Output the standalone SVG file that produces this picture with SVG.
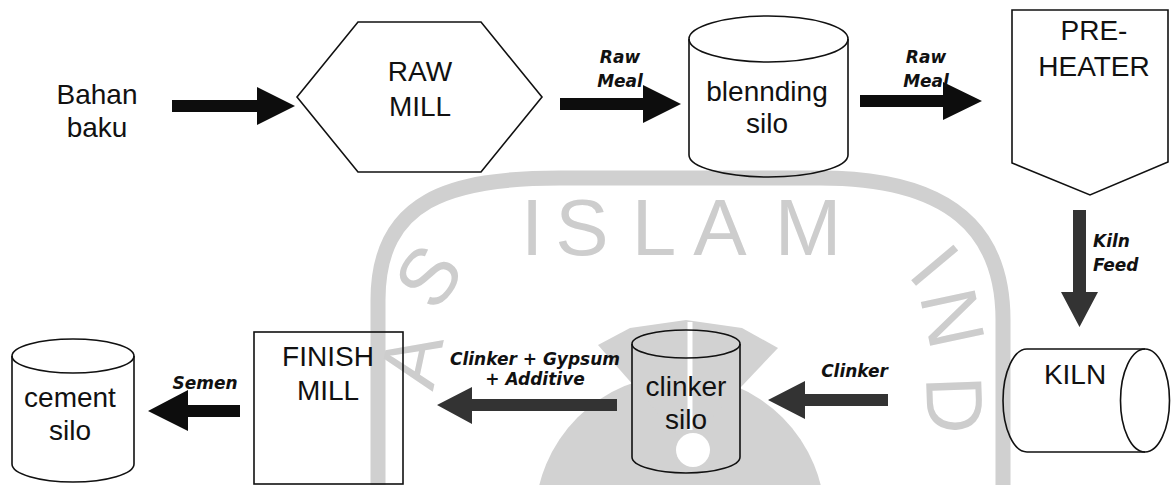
<svg xmlns="http://www.w3.org/2000/svg" width="1171" height="485" viewBox="0 0 1171 485">
<style>
.node{fill:none;stroke:#111;stroke-width:1.6}
.lbl{font-family:"Liberation Sans",Arial,sans-serif;font-size:28px;fill:#111;text-anchor:middle}
.flow{font-family:"DejaVu Sans",Verdana,sans-serif;font-size:17px;font-weight:bold;font-style:italic;fill:#111;text-anchor:middle}
.flowL{font-family:"DejaVu Sans",Verdana,sans-serif;font-size:17px;font-weight:bold;font-style:italic;fill:#111;text-anchor:start}
.flowR{font-family:"DejaVu Sans",Verdana,sans-serif;font-size:17px;font-weight:bold;font-style:italic;fill:#111;text-anchor:end}
.blk{fill:#0d0d0d}
.dk{fill:#333}
.wm{font-family:"Liberation Sans",Arial,sans-serif;font-size:80px;fill:#cdcdcd;text-anchor:middle}
.wmfill{fill:#d2d2d2}
</style>
<rect width="1171" height="485" fill="#fff"/>
<g id="watermark">
<path d="M 378,485 L 378,300 C 378,200 450,178 560,178 L 820,178 C 950,178 1003,230 1003,320 L 1003,485" fill="none" stroke="#d0d0d0" stroke-width="15"/>
<circle class="wmfill" cx="680" cy="520" r="145"/>
<polygon class="wmfill" points="686,445 598,345 630,328 686,320 742,328 778,348"/>
<line x1="690" y1="322" x2="690" y2="430" stroke="#fff" stroke-width="5"/>
<circle cx="693" cy="450" r="17" fill="#fff"/>
<text class="wm" x="532 582 654 720 808" y="255">ISLAM</text>
<text class="wm" transform="translate(428,276) rotate(-55)" x="0" y="28">S</text>
<text class="wm" transform="translate(411,360) rotate(-78)" x="0" y="28">A</text>
<text class="wm" transform="translate(935,265) rotate(50)" x="0" y="28">I</text>
<text class="wm" transform="translate(953,318) rotate(78)" x="0" y="28">N</text>
<text class="wm" transform="translate(955,405) rotate(88)" x="0" y="28">D</text>
</g>
<g id="bahan-baku">
<text class="lbl" x="97" y="104">Bahan</text>
<text class="lbl" x="97" y="137">baku</text>
</g>
<g id="raw-mill">
<polygon class="node" points="297,97 358,22 481,22 542,97 481,172 358,172"/>
<text class="lbl" x="420" y="81">RAW</text>
<text class="lbl" x="420" y="116">MILL</text>
</g>
<g id="blending-silo">
<path class="node" d="M689,39 L689,155 A79.5,22 0 0 0 848,155 L848,39"/>
<ellipse class="node" cx="768.5" cy="39" rx="79.5" ry="23"/>
<text class="lbl" x="767" y="101">blennding</text>
<text class="lbl" x="767" y="133">silo</text>
</g>
<g id="preheater">
<polygon class="node" points="1012,10 1168,10 1168,162 1090,195 1012,163"/>
<text class="lbl" x="1094" y="40">PRE-</text>
<text class="lbl" x="1094" y="76">HEATER</text>
</g>
<g id="kiln">
<path class="node" d="M1027,349 A24,51.5 0 0 0 1027,452 L1145,452 M1027,349 L1145,349"/>
<ellipse class="node" cx="1145" cy="400.5" rx="24.5" ry="51.5"/>
<text class="lbl" x="1075" y="384">KILN</text>
</g>
<g id="clinker-silo">
<path class="node" d="M632,344 L632,457 A54,16 0 0 0 740,457 L740,344"/>
<ellipse class="node" cx="686" cy="344" rx="54" ry="14"/>
<text class="lbl" x="686" y="396">clinker</text>
<text class="lbl" x="686" y="429">silo</text>
</g>
<g id="finish-mill">
<rect class="node" x="254" y="332" width="149" height="152"/>
<text class="lbl" x="328" y="366">FINISH</text>
<text class="lbl" x="328" y="400">MILL</text>
</g>
<g id="cement-silo">
<path class="node" d="M12,356 L12,464 A61,18 0 0 0 134,464 L134,356"/>
<ellipse class="node" cx="73" cy="356" rx="61" ry="17"/>
<text class="lbl" x="70" y="407">cement</text>
<text class="lbl" x="70" y="440">silo</text>
</g>
<g id="connectors">
<polygon class="blk" points="172,100 257,100 257,87 295,106 257,125 257,112 172,112"/>
<polygon class="blk" points="560,98 643,98 643,85 681,104 643,123 643,110 560,110"/>
<polygon class="blk" points="860,95 943,95 943,82 982,101 943,120 943,107 860,107"/>
<polygon class="dk" points="1073,210 1086,210 1086,292 1098,292 1079.5,327 1061,292 1073,292"/>
<polygon class="dk" points="888,394 805,394 805,381 768,400 805,419 805,406 888,406"/>
<polygon class="dk" points="617,399 472,399 472,387 437,405 472,424 472,411 617,411"/>
<polygon class="blk" points="240,405 188,405 188,390 148,411 188,431 188,417 240,417"/>
<text class="flow" x="620" y="63">Raw</text>
<text class="flow" x="620" y="87">Meal</text>
<text class="flow" x="926" y="63">Raw</text>
<text class="flow" x="926" y="87">Meal</text>
<text class="flowL" x="1093" y="247">Kiln</text>
<text class="flowL" x="1093" y="271">Feed</text>
<text class="flowR" x="888" y="377">Clinker</text>
<text class="flow" x="535" y="365">Clinker + Gypsum</text>
<text class="flow" x="535" y="385">+ Additive</text>
<text class="flow" x="205" y="389">Semen</text>
</g>
</svg>
